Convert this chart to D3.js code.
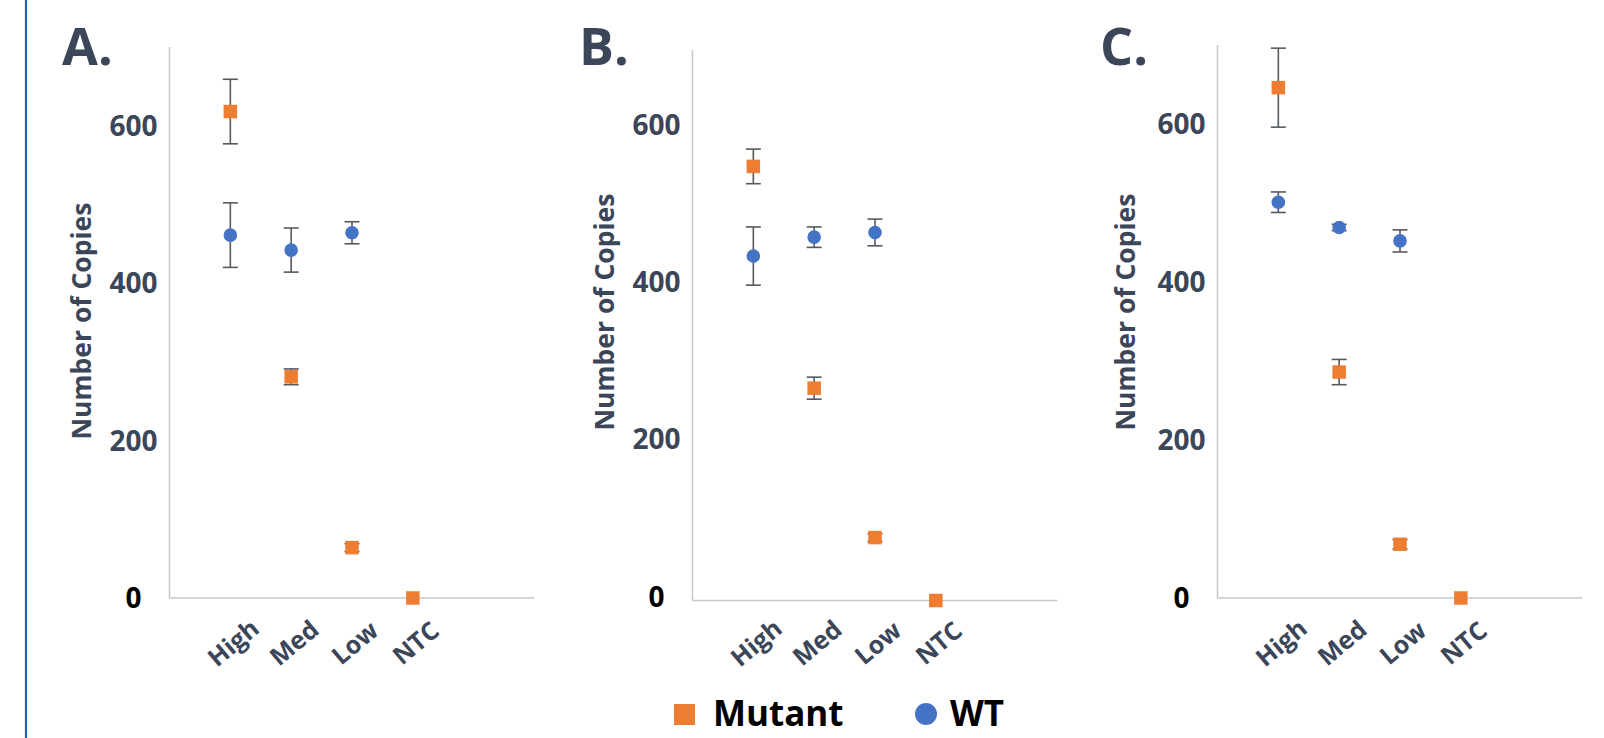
<!DOCTYPE html>
<html>
<head>
<meta charset="utf-8">
<script src="https://cdn.jsdelivr.net/npm/d3@7"></script>
<style>
  html, body { margin: 0; padding: 0; background: #fff; }
  svg { display: block; font-family: "Open Sans", "Liberation Sans", sans-serif; }
</style>
</head>
<body>
<svg id="chart" width="1604" height="738"></svg>
<script>
var categories = ["High", "Med", "Low", "NTC"],
  yTicks = [0, 200, 400, 600],
  panelNames = ["A.", "B.", "C."],
  seriesNames = ["Mutant", "WT"];

// Mutant (orange squares), mean and error per category
var mutantA = [618, 281, 64, 0],
  mutantErrA = [41, 10, 5, 0],
  mutantB = [552, 270, 80, 0],
  mutantErrB = [22, 14, 5, 0],
  mutantC = [646, 286, 68, 0],
  mutantErrC = [50, 16, 6, 0];

// WT (blue circles), no NTC point
var wtA = [461, 442, 464, null],
  wtErrA = [41, 28, 14, null],
  wtB = [438, 462, 468, null],
  wtErrB = [37, 13, 17, null],
  wtC = [501, 469, 452, null],
  wtErrC = [13, 4, 14, null];

var panels = [
  { name: panelNames[0], mutant: mutantA, mutantErr: mutantErrA, wt: wtA, wtErr: wtErrA,
    axisX: 169.5, top: 47, base: 598, tickShift: 0, letterX: 62, titleX: 82, titleY: 321 },
  { name: panelNames[1], mutant: mutantB, mutantErr: mutantErrB, wt: wtB, wtErr: wtErrB,
    axisX: 692.5, top: 50, base: 600.5, tickShift: -4, letterX: 579, titleX: 605, titleY: 312 },
  { name: panelNames[2], mutant: mutantC, mutantErr: mutantErrC, wt: wtC, wtErr: wtErrC,
    axisX: 1217.5, top: 45, base: 598, tickShift: 0, letterX: 1100, titleX: 1126, titleY: 312 }
];

var colors = { mutant: "#ED7D31", wt: "#4472C4", text: "#3b4659", axis: "#c6c6c6", err: "#555a60" };

var svg = d3.select("#chart");

// blue rule at left edge
svg.append("line")
  .attr("x1", 26).attr("x2", 26)
  .attr("y1", 0).attr("y2", 738)
  .attr("stroke", "#1f5fb0")
  .attr("stroke-width", 2.2);

var drawPanel = function(p) {
  var g = svg.append("g").attr("class", "panel"),
    x = d3.scaleLinear().domain([0, 6]).range([p.axisX, p.axisX + 365]),
    y = d3.scaleLinear().domain([0, 700]).range([p.base, p.top]);

  // axis lines
  g.append("line")
    .attr("x1", p.axisX).attr("x2", p.axisX)
    .attr("y1", y(700)).attr("y2", y(0))
    .attr("stroke", colors.axis).attr("stroke-width", 1.5);
  g.append("line")
    .attr("x1", p.axisX).attr("x2", x(6))
    .attr("y1", y(0)).attr("y2", y(0))
    .attr("stroke", colors.axis).attr("stroke-width", 1.5);

  // y tick labels
  g.selectAll(".ytick")
    .data(yTicks)
    .enter()
    .append("text")
    .attr("class", "ytick")
    .attr("x", function(d) { return d === 0 ? p.axisX - 28 : p.axisX - 12; })
    .attr("y", function(d) { return y(d) + p.tickShift; })
    .attr("dy", "0.36em")
    .attr("text-anchor", "end")
    .attr("font-size", 28)
    .attr("font-weight", 700)
    .attr("fill", function(d) { return d === 0 ? "#000" : colors.text; })
    .text(function(d) { return d; });

  // category labels
  g.selectAll(".xtick")
    .data(categories)
    .enter()
    .append("text")
    .attr("class", "xtick")
    .attr("transform", function(d, i) {
      return "translate(" + (x(i + 1) + 3) + "," + 643 + ") rotate(-40)";
    })
    .attr("text-anchor", "middle")
    .attr("dy", "0.35em")
    .attr("font-size", 25)
    .attr("font-weight", 700)
    .attr("fill", colors.text)
    .text(function(d) { return d; });

  // y title
  g.append("text")
    .attr("transform", "translate(" + p.titleX + "," + p.titleY + ") rotate(-90)")
    .attr("text-anchor", "middle")
    .attr("dy", "0.35em")
    .attr("font-size", 26.5)
    .attr("font-weight", 700)
    .attr("fill", colors.text)
    .text("Number of Copies");

  // panel letter
  g.append("text")
    .attr("x", p.letterX)
    .attr("y", 65)
    .attr("font-size", 52)
    .attr("font-weight", 700)
    .attr("fill", colors.text)
    .text(p.name);

  var addSeries = function(values, errs, shape, color) {
    var pts = values.map(function(v, i) { return { v: v, e: errs[i], i: i }; })
      .filter(function(d) { return d.v !== null; });

    var bars = g.selectAll(null)
      .data(pts.filter(function(d) { return d.e > 0; }))
      .enter()
      .append("g")
      .attr("stroke", colors.err)
      .attr("stroke-width", 1.6);
    bars.append("line")
      .attr("x1", function(d) { return x(d.i + 1); })
      .attr("x2", function(d) { return x(d.i + 1); })
      .attr("y1", function(d) { return y(d.v + d.e); })
      .attr("y2", function(d) { return y(d.v - d.e); });
    bars.selectAll(null)
      .data(function(d) { return [d.v + d.e, d.v - d.e].map(function(v) { return { v: v, i: d.i }; }); })
      .enter()
      .append("line")
      .attr("x1", function(d) { return x(d.i + 1) - 7.5; })
      .attr("x2", function(d) { return x(d.i + 1) + 7.5; })
      .attr("y1", function(d) { return y(d.v); })
      .attr("y2", function(d) { return y(d.v); });

    var sym = d3.symbol().type(shape === "square" ? d3.symbolSquare : d3.symbolCircle)
      .size(shape === "square" ? 13.5 * 13.5 : Math.PI * 6.8 * 6.8);
    g.selectAll(null)
      .data(pts)
      .enter()
      .append("path")
      .attr("d", sym)
      .attr("transform", function(d) { return "translate(" + x(d.i + 1) + "," + y(d.v) + ")"; })
      .attr("fill", color);
  };

  addSeries(p.wt, p.wtErr, "circle", colors.wt);
  addSeries(p.mutant, p.mutantErr, "square", colors.mutant);
};

panels.forEach(drawPanel);

// legend (kept just inside the bottom edge)
var legend = svg.append("g").attr("class", "legend");
legend.append("rect")
  .attr("x", 674).attr("y", 704)
  .attr("width", 21).attr("height", 21)
  .attr("fill", colors.mutant);
legend.append("text")
  .attr("x", 713).attr("y", 726)
  .attr("font-size", 35)
  .attr("font-weight", 700)
  .attr("fill", "#000")
  .text(seriesNames[0]);
legend.append("circle")
  .attr("cx", 926).attr("cy", 714)
  .attr("r", 11)
  .attr("fill", colors.wt);
legend.append("text")
  .attr("x", 950).attr("y", 726)
  .attr("font-size", 35)
  .attr("font-weight", 700)
  .attr("fill", "#000")
  .text(seriesNames[1]);
</script>
</body>
</html>
